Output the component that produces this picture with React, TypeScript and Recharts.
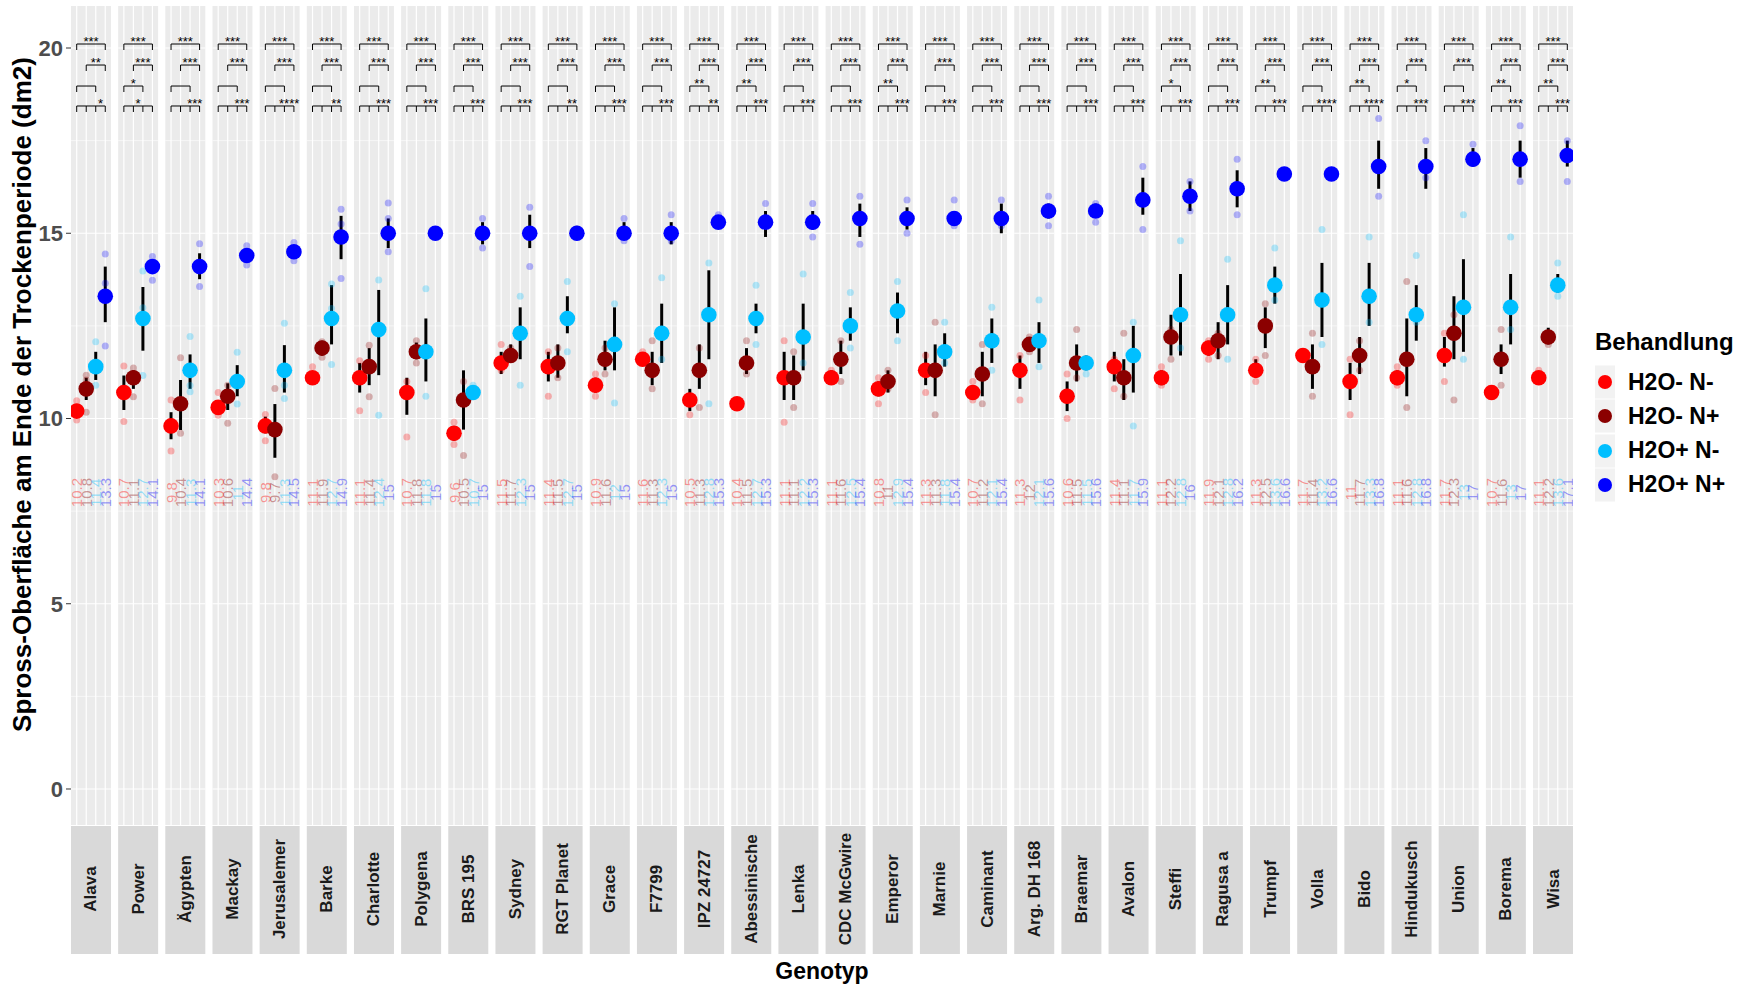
import React from 'react';
import {
  ComposedChart,
  Scatter,
  XAxis,
  YAxis,
  ErrorBar,
  ReferenceArea,
  ReferenceLine,
  Label
} from 'recharts';

const genotypes = [
  'Alava', 'Power', 'Ägypten', 'Mackay', 'Jerusalemer', 'Barke', 'Charlotte', 'Polygena',
  'BRS 195', 'Sydney', 'RGT Planet', 'Grace', 'F7799', 'IPZ 24727', 'Abessinische', 'Lenka',
  'CDC McGwire', 'Emperor', 'Marnie', 'Caminant', 'Arg. DH 168', 'Braemar', 'Avalon', 'Steffi',
  'Ragusa a', 'Trumpf', 'Volla', 'Bido', 'Hindukusch', 'Union', 'Borema', 'Wisa'
];

const treatments = ['H2O- N-', 'H2O- N+', 'H2O+ N-', 'H2O+ N+'];
const colors = ['#FF0000', '#8B0000', '#00BFFF', '#0000FF'];

// Mittelwerte
const meanNm = [10.2, 10.7, 9.8, 10.3, 9.8, 11.1, 11.1, 10.7, 9.6, 11.5, 11.4, 10.9, 11.6, 10.5, 10.4, 11.1,
  11.1, 10.8, 11.3, 10.7, 11.3, 10.6, 11.4, 11.1, 11.9, 11.3, 11.7, 11.0, 11.1, 11.7, 10.7, 11.1];
const meanNp = [10.8, 11.1, 10.4, 10.6, 9.7, 11.9, 11.4, 11.8, 10.5, 11.7, 11.5, 11.6, 11.3, 11.3, 11.5, 11.1,
  11.6, 11.0, 11.3, 11.2, 12.0, 11.5, 11.1, 12.2, 12.1, 12.5, 11.4, 11.7, 11.6, 12.3, 11.6, 12.2];
const meanWm = [11.4, 12.7, 11.3, 11.0, 11.3, 12.7, 12.4, 11.8, 10.7, 12.3, 12.7, 12.0, 12.3, 12.8, 12.7, 12.2,
  12.5, 12.9, 11.8, 12.1, 12.1, 11.5, 11.7, 12.8, 12.8, 13.6, 13.2, 13.3, 12.8, 13.0, 13.0, 13.6];
const meanWp = [13.3, 14.1, 14.1, 14.4, 14.5, 14.9, 15.0, 15.0, 15.0, 15.0, 15.0, 15.0, 15.0, 15.3, 15.3, 15.3,
  15.4, 15.4, 15.4, 15.4, 15.6, 15.6, 15.9, 16.0, 16.2, 16.6, 16.6, 16.8, 16.8, 17.0, 17.0, 17.1];

// Fehlerbalken [unten, oben]
const barNm = [[10.1, 10.3], [10.23, 11.16], [9.44, 10.17], [10.15, 10.5], [9.6, 10.05], [11.0, 11.25], [10.7, 11.5], [10.1, 11.1],
  [9.4, 9.8], [11.2, 11.8], [11.0, 11.8], [10.7, 11.1], [11.45, 11.75], [10.2, 10.8], [10.3, 10.5], [10.5, 11.8],
  [11.0, 11.3], [10.6, 11.0], [10.9, 11.8], [10.5, 10.9], [10.8, 11.7], [10.2, 11.0], [11.0, 11.8], [10.9, 11.3],
  [11.7, 12.1], [11.1, 11.6], [11.5, 11.9], [10.5, 11.5], [10.9, 11.3], [11.4, 12.2], [10.6, 10.85], [10.95, 11.25]];
const barNp = [[10.5, 11.1], [10.8, 11.3], [9.69, 11.04], [10.23, 10.95], [8.94, 10.39], [11.7, 12.1], [10.9, 11.9], [11.6, 12.05],
  [9.7, 11.3], [11.5, 12.0], [11.1, 12.0], [11.3, 12.1], [10.9, 11.8], [10.8, 12.0], [11.2, 11.9], [10.5, 11.7],
  [11.2, 12.1], [10.7, 11.3], [10.6, 12.0], [10.6, 11.8], [11.8, 12.2], [11.0, 12.0], [10.5, 11.6], [11.7, 12.8],
  [11.6, 12.6], [11.9, 13.0], [10.8, 12.0], [11.2, 12.2], [10.6, 12.7], [11.6, 13.3], [11.2, 12.0], [12.0, 12.45]];
const barWm = [[11.04, 11.8], [11.83, 13.55], [10.8, 11.73], [10.6, 11.44], [10.7, 11.98], [12.0, 13.6], [11.17, 13.47], [11.0, 12.7],
  [10.5, 10.8], [11.6, 13.0], [12.3, 13.3], [11.3, 13.0], [11.5, 13.1], [11.6, 14.0], [12.3, 13.1], [11.3, 13.1],
  [12.1, 13.0], [12.3, 13.4], [11.4, 12.3], [11.5, 12.7], [11.5, 12.6], [11.3, 11.7], [10.7, 12.5], [11.7, 13.9],
  [12.0, 13.6], [13.1, 14.1], [12.2, 14.2], [12.5, 14.2], [12.1, 13.6], [11.8, 14.3], [12.0, 13.9], [13.4, 13.9]];
const barWp = [[12.6, 14.1], [13.95, 14.25], [13.76, 14.46], [14.25, 14.5], [14.4, 14.6], [14.3, 15.47], [14.6, 15.4], [14.9, 15.1],
  [14.7, 15.3], [14.6, 15.5], [14.85, 15.2], [14.9, 15.3], [14.7, 15.3], [15.15, 15.45], [14.9, 15.6], [15.1, 15.6],
  [14.9, 15.8], [15.1, 15.7], [15.2, 15.6], [15.0, 15.8], [15.4, 15.8], [15.5, 15.8], [15.5, 16.5], [15.6, 16.4],
  [15.7, 16.7], [16.55, 16.75], [16.55, 16.75], [16.2, 17.5], [16.2, 17.3], [16.8, 17.3], [16.5, 17.5], [16.8, 17.5]];

// Einzelwerte (Wiederholungen)
const repNm = [[10.48, 9.96, 10.17], [11.42, 9.92], [10.5, 9.12], [10.09, 10.7], [10.11, 9.4], [11.4, 11.0], [11.56, 10.21], [11.0, 9.5],
  [9.9, 9.3], [12.0, 11.3], [11.8, 10.6], [11.2, 10.6], [11.8, 11.5], [10.1, 10.6], [10.3, 10.45], [12.1, 9.9],
  [11.3, 11.0], [11.1, 10.4], [11.7, 10.7], [11.0, 10.5], [11.7, 10.5], [11.2, 10.0], [11.6, 10.8], [11.4, 10.9],
  [12.1, 11.6], [11.6, 11.0], [11.8, 11.6], [11.6, 10.1], [11.4, 10.9], [12.3, 11.0], [10.8, 10.6], [11.3, 11.0]];
const repNp = [[11.17, 11.04, 10.17], [11.36, 10.59], [11.64, 9.6], [10.9, 9.87], [10.81, 8.43], [12.07, 11.65], [11.98, 10.59], [12.1, 11.5],
  [11.0, 9.0], [11.9, 11.6], [11.1, 11.9], [11.9, 11.2], [12.1, 10.8], [11.9, 10.3], [12.1, 11.2], [11.8, 10.3],
  [12.1, 11.0], [11.3, 10.8], [12.6, 10.1], [12.0, 10.4], [12.2, 11.8], [12.4, 11.1], [12.3, 10.6], [12.4, 11.6],
  [12.3, 11.7], [13.1, 11.7], [12.3, 10.6], [12.1, 11.3], [13.7, 10.3], [12.8, 10.5], [12.4, 10.9], [12.3, 12.0]];
const repWm = [[12.07, 10.9], [13.98, 12.99, 11.16], [12.21, 10.89, 10.72], [11.79, 10.39], [12.57, 10.9, 10.54], [13.63, 12.97, 11.46], [13.74, 10.09], [13.5, 10.6],
  [10.9], [13.3, 10.9], [13.7, 11.8], [13.1, 10.42], [13.8, 11.6], [14.2, 10.4], [13.6, 12.0], [13.9, 11.5],
  [13.4, 11.9], [13.7, 12.1], [12.6, 11.5], [13.0, 11.3], [13.2, 11.4], [11.6, 11.2], [12.6, 9.8], [14.8, 11.9],
  [14.3, 11.6], [14.6, 13.2], [15.1, 12.0], [14.9, 12.6], [14.4, 12.6], [15.5, 11.6], [14.9, 12.4], [14.2, 13.3]];
const repWp = [[14.44, 13.65, 11.96], [14.37, 13.73], [14.72, 13.56], [14.66, 14.14], [14.75, 14.26], [15.65, 15.25, 13.78], [15.82, 15.4, 14.5], [15.1, 14.9],
  [15.4, 14.6], [15.7, 14.1], [15.1, 14.9], [15.4, 14.8], [15.5, 14.8], [15.5, 15.2], [15.8, 15.4], [15.8, 14.9],
  [16.0, 14.7], [15.9, 15.0], [15.9, 15.2], [15.9, 15.2], [16.0, 15.2], [15.8, 15.3], [16.8, 15.1], [16.4, 15.6],
  [17.0, 15.5], [16.7, 16.6], [16.6, 16.7], [18.1, 16.0], [17.5, 16.5], [17.4, 16.9], [17.9, 16.4], [17.5, 16.4]];

// Signifikanzen
const sig14 = genotypes.map(() => '***');
const sig24 = ['**', '***', '***', '***', '***', '***', '***', '***', '***', '***', '***', '***', '***', '***', '***', '***',
  '***', '***', '***', '***', '***', '***', '***', '***', '***', '***', '***', '***', '***', '***', '***', '***'];
const sig13 = ['', '*', '', '', '', '', '', '', '', '', '', '', '', '**', '**', '',
  '', '**', '', '', '', '', '', '*', '', '**', '', '**', '*', '', '**', '**'];
const sigPairs = ['*', '*', '***', '***', '****', '**', '***', '***', '***', '***', '**', '***', '***', '**', '***', '***',
  '***', '***', '***', '***', '***', '***', '***', '***', '***', '***', '****', '****', '***', '***', '***', '***'];
const sigPairsPos = [3.5, 2.5, 3.5, 3.5, 3.5, 3.5, 3.5, 3.5, 3.5, 3.5, 3.5, 3.5, 3.5, 3.5, 3.5, 3.5,
  3.5, 3.5, 3.5, 3.5, 3.5, 3.5, 3.5, 3.5, 3.5, 3.5, 3.5, 3.5, 3.5, 3.5, 3.5, 3.5];

const yTicks = [0, 5, 10, 15, 20];
const yMinor = [2.5, 7.5, 12.5, 17.5];

const means = [meanNm, meanNp, meanWm, meanWp];
const bars = [barNm, barNp, barWm, barWp];
const reps = [repNm, repNp, repWm, repWp];

// Facetten-Layout (x-Einheiten)
const PANEL = 4.2;
const PITCH = 4.956;
const Y_MIN = -0.972;
const Y_MAX = 21.134;
const LABEL_Y = 8.0;
const ROW_Y = [20.108, 19.541, 18.974, 18.435];
const TICK = 0.162;

const pos = (i: number, j: number) => i * PITCH + 0.6 + j;
const xMax = (genotypes.length - 1) * PITCH + PANEL;

const meanData = means.map((m, j) =>
  m.map((v, i) => ({ x: pos(i, j), y: v, err: [v - bars[j][i][0], bars[j][i][1] - v] }))
);
const repData = reps.map((r, j) =>
  r.flatMap((vals, i) => vals.map((v) => ({ x: pos(i, j), y: v })))
);
const labelData = means.map((m, j) => m.map((v, i) => ({ x: pos(i, j), y: LABEL_Y, v })));

const sigData: { x: number; y: number; t: string }[] = [];
const segments: { x1: number; y1: number; x2: number; y2: number }[] = [];
genotypes.forEach((g, i) => {
  const brackets = [
    { a: 0, b: 3, y: ROW_Y[0], t: sig14[i] },
    { a: 1, b: 3, y: ROW_Y[1], t: sig24[i] },
    { a: 0, b: 2, y: ROW_Y[2], t: sig13[i] }
  ];
  brackets.forEach((br) => {
    segments.push({ x1: pos(i, br.a), y1: br.y, x2: pos(i, br.b), y2: br.y });
    segments.push({ x1: pos(i, br.a), y1: br.y, x2: pos(i, br.a), y2: br.y - TICK });
    segments.push({ x1: pos(i, br.b), y1: br.y, x2: pos(i, br.b), y2: br.y - TICK });
    if (br.t) sigData.push({ x: (pos(i, br.a) + pos(i, br.b)) / 2, y: br.y, t: br.t });
  });
  segments.push({ x1: pos(i, 0), y1: ROW_Y[3], x2: pos(i, 3), y2: ROW_Y[3] });
  [0, 1, 2, 3].forEach((j) => {
    segments.push({ x1: pos(i, j), y1: ROW_Y[3], x2: pos(i, j), y2: ROW_Y[3] - TICK });
  });
  sigData.push({ x: pos(i, sigPairsPos[i] - 1), y: ROW_Y[3], t: sigPairs[i] });
});

const fmt = (v: number) => Number(v.toFixed(1)).toString();
const FONT = '"Liberation Sans", Arial, sans-serif';

const StripTick = (props: any) => {
  const { x, y, payload } = props;
  const idx = Math.round((payload.value - PANEL / 2) / PITCH);
  const cy = y + 64;
  return (
    <g>
      <rect x={x - 20} y={y + 1} width={40} height={128} fill="#D9D9D9" />
      <text
        x={x}
        y={cy}
        transform={`rotate(-90 ${x} ${cy})`}
        textAnchor="middle"
        dominantBaseline="central"
        fontSize={17}
        fontWeight="bold"
        fill="#1A1A1A"
        fontFamily={FONT}
      >
        {genotypes[idx]}
      </text>
    </g>
  );
};

const renderYTitle = (props: any) => {
  const vb = props.viewBox || { x: 0, y: 6, width: 71, height: 819 };
  const cx = vb.x + 22;
  const cy = vb.y + vb.height / 2 - 21;
  return (
    <text x={cx} y={cy} transform={`rotate(-90 ${cx} ${cy})`} textAnchor="middle" dominantBaseline="central"
      fontSize={26} fontWeight="bold" fill="#000" fontFamily={FONT}>
      Spross-Oberfläche am Ende der Trockenperiode (dm2)
    </text>
  );
};

const renderXTitle = (props: any) => {
  const vb = props.viewBox || { x: 71, y: 825, width: 1502, height: 162 };
  return (
    <text x={vb.x + vb.width / 2} y={vb.y + 146} textAnchor="middle" dominantBaseline="central"
      fontSize={23} fontWeight="bold" fill="#000" fontFamily={FONT}>
      Genotyp
    </text>
  );
};

const App: React.FC = () => {
  const stripTicks = genotypes.map((g, i) => i * PITCH + PANEL / 2);

  return (
    <div style={{ position: 'absolute', left: 0, top: 0, width: 1749, height: 987, background: '#fff', fontFamily: FONT }}>
      <ComposedChart width={1749} height={987} margin={{ top: 6, right: 176, bottom: 0, left: 0 }}>
        <XAxis
          type="number"
          dataKey="x"
          domain={[0, xMax]}
          ticks={stripTicks}
          interval={0}
          tick={<StripTick />}
          tickSize={0}
          tickMargin={0}
          axisLine={false}
          tickLine={false}
          height={162}
          allowDataOverflow
        >
          <Label content={renderXTitle} />
        </XAxis>
        <YAxis
          type="number"
          dataKey="y"
          domain={[Y_MIN, Y_MAX]}
          ticks={yTicks}
          width={71}
          tickSize={5}
          tickMargin={3}
          axisLine={false}
          tickLine={{ stroke: '#333333' }}
          tick={{ fill: '#4D4D4D', fontSize: 22, fontWeight: 'bold', fontFamily: FONT }}
          allowDataOverflow
        >
          <Label content={renderYTitle} />
        </YAxis>

        {genotypes.map((g, i) => (
          <ReferenceArea key={`p${i}`} x1={i * PITCH} x2={i * PITCH + PANEL} y1={Y_MIN} y2={Y_MAX}
            fill="#EBEBEB" fillOpacity={1} stroke="none" ifOverflow="visible" />
        ))}
        {genotypes.map((g, i) =>
          yMinor.map((v) => (
            <ReferenceLine key={`mn${i}-${v}`} segment={[{ x: i * PITCH, y: v }, { x: i * PITCH + PANEL, y: v }]}
              stroke="#FFFFFF" strokeWidth={0.6} ifOverflow="visible" />
          ))
        )}
        {genotypes.map((g, i) =>
          yTicks.map((v) => (
            <ReferenceLine key={`mj${i}-${v}`} segment={[{ x: i * PITCH, y: v }, { x: i * PITCH + PANEL, y: v }]}
              stroke="#FFFFFF" strokeWidth={1.2} ifOverflow="visible" />
          ))
        )}
        {genotypes.map((g, i) =>
          [0, 1, 2, 3].map((j) => (
            <ReferenceLine key={`v${i}-${j}`} segment={[{ x: pos(i, j), y: Y_MIN }, { x: pos(i, j), y: Y_MAX }]}
              stroke="#FFFFFF" strokeWidth={1.2} ifOverflow="visible" />
          ))
        )}

        {segments.map((s, k) => (
          <ReferenceLine key={`b${k}`} segment={[{ x: s.x1, y: s.y1 }, { x: s.x2, y: s.y2 }]}
            stroke="#000000" strokeWidth={1} ifOverflow="visible" />
        ))}

        <Scatter
          data={sigData}
          isAnimationActive={false}
          shape={(p: any) => (
            <text x={p.cx} y={p.cy + 2} textAnchor="middle" fontSize={13} fill="#000" fontFamily={FONT}>
              {p.payload.t}
            </text>
          )}
        />

        {labelData.map((d, j) => (
          <Scatter
            key={`lab${j}`}
            data={d}
            isAnimationActive={false}
            shape={(p: any) => (
              <text x={p.cx} y={p.cy} transform={`rotate(-90 ${p.cx} ${p.cy})`} textAnchor="middle"
                dominantBaseline="central" fontSize={15} fill={colors[j]} fillOpacity={0.4} fontFamily={FONT}>
                {fmt(p.payload.v)}
              </text>
            )}
          />
        ))}

        {repData.map((d, j) => (
          <Scatter
            key={`rep${j}`}
            data={d}
            isAnimationActive={false}
            shape={(p: any) => <circle cx={p.cx} cy={p.cy} r={3.5} fill={colors[j]} fillOpacity={0.28} />}
          />
        ))}

        {meanData.map((d, j) => (
          <Scatter
            key={`err${j}`}
            data={d}
            isAnimationActive={false}
            shape={() => <g />}
          >
            <ErrorBar dataKey="err" direction="y" width={0} stroke="#000000" strokeWidth={3} isAnimationActive={false} />
          </Scatter>
        ))}

        {meanData.map((d, j) => (
          <Scatter
            key={`mean${j}`}
            name={treatments[j]}
            data={d}
            isAnimationActive={false}
            shape={(p: any) => <circle cx={p.cx} cy={p.cy} r={7.8} fill={colors[j]} />}
          />
        ))}
      </ComposedChart>

      <div style={{ position: 'absolute', left: 1595, top: 327, fontSize: 24, fontWeight: 'bold', color: '#000', lineHeight: '30px' }}>
        Behandlung
      </div>
      {treatments.map((t, j) => (
        <div key={t} style={{ position: 'absolute', left: 1595, top: 365 + j * 34.3, height: 34, display: 'flex', alignItems: 'center' }}>
          <svg width={20} height={34}>
            <rect x={0} y={0.5} width={20} height={33} fill="#F2F2F2" />
            <circle cx={10} cy={17} r={7} fill={colors[j]} />
          </svg>
          <span style={{ marginLeft: 13, fontSize: 23, fontWeight: 'bold', color: '#000' }}>{t}</span>
        </div>
      ))}
    </div>
  );
};

export default App;
